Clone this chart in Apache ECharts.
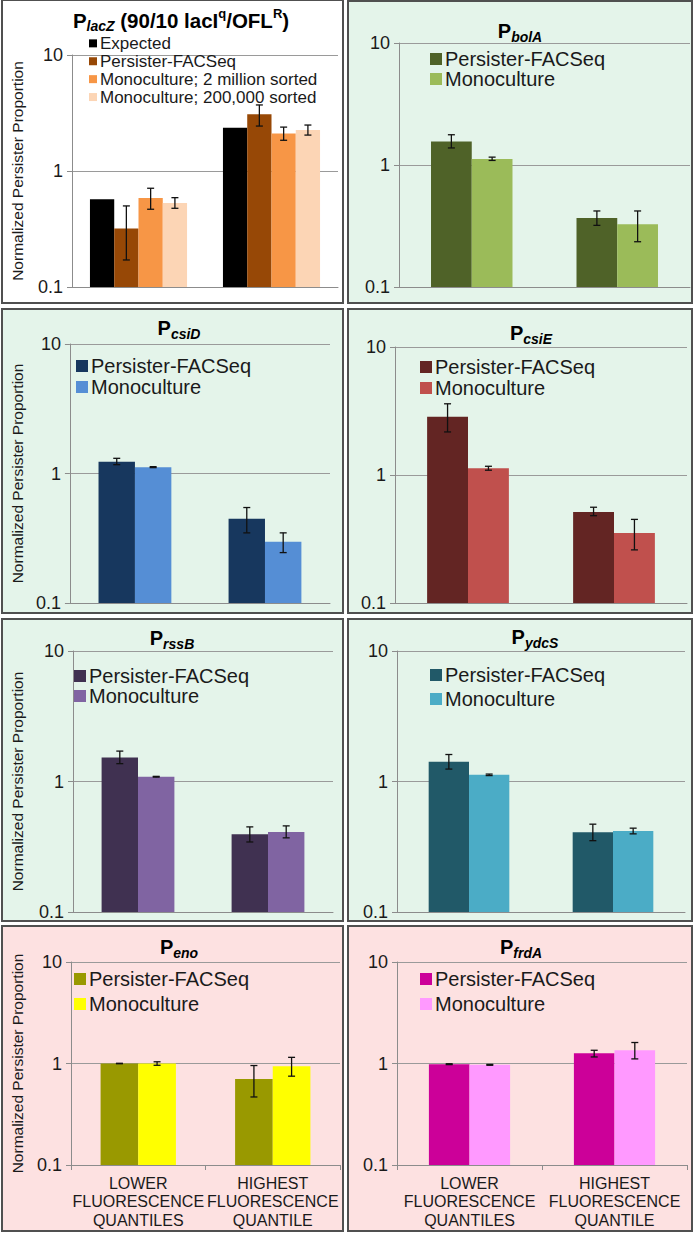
<!DOCTYPE html>
<html><head><meta charset="utf-8">
<script src="https://cdn.jsdelivr.net/npm/echarts@6/dist/echarts.min.js"></script>
<style>
html,body{margin:0;padding:0;background:#fff}
body{width:697px;height:1233px;position:relative;overflow:hidden}
.c{position:absolute}
.b{position:absolute;box-sizing:border-box;border:2px solid #505050;pointer-events:none;z-index:5}
</style></head><body>
<script>
// ---------- DATA ----------
const categories = ['LOWER\nFLUORESCENCE\nQUANTILES', 'HIGHEST\nFLUORESCENCE\nQUANTILE'];
const yTickLabels = ['0.1', '1', '10'];
const yAxisName = 'Normalized Persister Proportion';
const lacZNames = ['Expected', 'Persister-FACSeq', 'Monoculture; 2 million sorted', 'Monoculture; 200,000 sorted'];
const pairNames = ['Persister-FACSeq', 'Monoculture'];

// P lacZ
const lacZExpected = [0.57, 2.36];
const lacZFacseq = [0.32, 3.08];
const lacZFacseqLow = [0.171, 2.44];
const lacZFacseqHigh = [0.50, 3.71];
const lacZMono2M = [0.585, 2.11];
const lacZMono2MLow = [0.468, 1.84];
const lacZMono2MHigh = [0.71, 2.39];
const lacZMono200k = [0.53, 2.26];
const lacZMono200kLow = [0.477, 2.04];
const lacZMono200kHigh = [0.589, 2.49];
// P bolA
const bolAFacseq = [1.56, 0.368];
const bolAFacseqLow = [1.38, 0.32];
const bolAFacseqHigh = [1.77, 0.42];
const bolAMono = [1.12, 0.327];
const bolAMonoLow = [1.09, 0.235];
const bolAMonoHigh = [1.16, 0.42];
// P csiD
const csiDFacseq = [1.23, 0.447];
const csiDFacseqLow = [1.17, 0.348];
const csiDFacseqHigh = [1.31, 0.546];
const csiDMono = [1.12, 0.297];
const csiDMonoLow = [1.11, 0.245];
const csiDMonoHigh = [1.13, 0.348];
// P csiE
const csiEFacseq = [2.85, 0.514];
const csiEFacseqLow = [2.17, 0.481];
const csiEFacseqHigh = [3.6, 0.56];
const csiEMono = [1.13, 0.352];
const csiEMonoLow = [1.09, 0.26];
const csiEMonoHigh = [1.17, 0.45];
// P rssB
const rssBFacseq = [1.53, 0.394];
const rssBFacseqLow = [1.37, 0.344];
const rssBFacseqHigh = [1.71, 0.449];
const rssBMono = [1.087, 0.411];
const rssBMonoLow = [1.08, 0.37];
const rssBMonoHigh = [1.095, 0.457];
// P ydcS
const ydcSFacseq = [1.42, 0.409];
const ydcSFacseqLow = [1.245, 0.352];
const ydcSFacseqHigh = [1.61, 0.471];
const ydcSMono = [1.125, 0.418];
const ydcSMonoLow = [1.11, 0.397];
const ydcSMonoHigh = [1.14, 0.439];
// P eno
const enoFacseq = [1.0, 0.705];
const enoFacseqLow = [0.995, 0.468];
const enoFacseqHigh = [1.005, 0.955];
const enoMono = [1.0, 0.94];
const enoMonoLow = [0.96, 0.75];
const enoMonoHigh = [1.04, 1.15];
// P frdA
const frdAFacseq = [0.985, 1.26];
const frdAFacseqLow = [0.975, 1.16];
const frdAFacseqHigh = [0.995, 1.35];
const frdAMono = [0.97, 1.35];
const frdAMonoLow = [0.96, 1.11];
const frdAMonoHigh = [0.98, 1.61];

// ---------- LAYOUT / STYLE ----------
const GREEN = '#e4f4ea', PINK = '#fde1e1';
function pair(c1, c2, a, al, ah, b, bl, bh) {
  return [
    {name: pairNames[0], color: c1, v: a, lo: al, hi: ah},
    {name: pairNames[1], color: c2, v: b, lo: bl, hi: bh}
  ];
}
function sub(g) { return '{p|P}{s|' + g + '}'; }
const panels = [
  {title: '{p|P}{s|lacZ}{p| (90/10 lacI}{u|q}{p|/OFL}{u|R}{p|)}', frame: [1, -1, 344, 304], grid: [58, 55, 338, 287],
   t: [181, 7], lg: [89, 34.4, 17.9, 17, 8], gap: '27%', nameGap: 47, xl: false, bg: '#ffffff', pf: 20.5,
   series: [
     {name: lacZNames[0], color: '#000000', v: lacZExpected},
     {name: lacZNames[1], color: '#974806', v: lacZFacseq, lo: lacZFacseqLow, hi: lacZFacseqHigh},
     {name: lacZNames[2], color: '#f79646', v: lacZMono2M, lo: lacZMono2MLow, hi: lacZMono2MHigh},
     {name: lacZNames[3], color: '#fcd5b5', v: lacZMono200k, lo: lacZMono200kLow, hi: lacZMono200kHigh}
   ]},
  {title: sub('bolA'), frame: [347, 0, 693, 304], grid: [399, 43, 690, 287], t: [520, 17.5],
   lg: [430, 49, 20, 20, 12], gap: '44%', nameGap: null, xl: false, bg: GREEN,
   series: pair('#4f6228', '#9bbb59', bolAFacseq, bolAFacseqLow, bolAFacseqHigh, bolAMono, bolAMonoLow, bolAMonoHigh)},
  {title: sub('csiD'), frame: [1, 308, 344, 614], grid: [50, 344, 330, 603], t: [179, 315],
   lg: [76, 355.5, 21, 20, 12], gap: '44%', nameGap: 38.5, xl: false, bg: GREEN,
   series: pair('#17375e', '#558ed5', csiDFacseq, csiDFacseqLow, csiDFacseqHigh, csiDMono, csiDMonoLow, csiDMonoHigh)},
  {title: sub('csiE'), frame: [347, 308, 693, 614], grid: [395, 347, 687, 603], t: [531, 319.5],
   lg: [420, 356.5, 21, 20, 12], gap: '44%', nameGap: null, xl: false, bg: GREEN,
   series: pair('#632523', '#c0504d', csiEFacseq, csiEFacseqLow, csiEFacseqHigh, csiEMono, csiEMonoLow, csiEMonoHigh)},
  {title: sub('rssB'), frame: [1, 618, 344, 922], grid: [60, 651, 333, 912], t: [172, 624.5],
   lg: [74, 666, 20, 20, 12], gap: '44%', nameGap: 48, xl: false, bg: GREEN,
   series: pair('#403151', '#8064a2', rssBFacseq, rssBFacseqLow, rssBFacseqHigh, rssBMono, rssBMonoLow, rssBMonoHigh)},
  {title: sub('ydcS'), frame: [347, 618, 693, 922], grid: [397, 651, 685, 912], t: [535, 624],
   lg: [430, 663, 24, 20, 12], gap: '44%', nameGap: null, xl: false, bg: GREEN,
   series: pair('#215968', '#4bacc6', ydcSFacseq, ydcSFacseqLow, ydcSFacseqHigh, ydcSMono, ydcSMonoLow, ydcSMonoHigh)},
  {title: sub('eno'), frame: [1, 925, 344, 1232], grid: [58, 962, 340, 1165], t: [179, 934],
   lg: [74, 966.5, 25, 20, 12], gap: '44%', nameGap: 46, xl: true, bg: PINK,
   series: pair('#999900', '#ffff00', enoFacseq, enoFacseqLow, enoFacseqHigh, enoMono, enoMonoLow, enoMonoHigh)},
  {title: sub('frdA'), frame: [347, 925, 693, 1232], grid: [397, 962, 687, 1165], t: [521, 934],
   lg: [420, 966.5, 25, 20, 12], gap: '44%', nameGap: null, xl: true, bg: PINK,
   series: pair('#cc0099', '#ff99ff', frdAFacseq, frdAFacseqLow, frdAFacseqHigh, frdAMono, frdAMonoLow, frdAMonoHigh)}
];

const FONT = '"Liberation Sans", Arial, Helvetica, sans-serif';

panels.forEach(function (P, k) {
  const [x0, y0, x1, y1] = P.frame;
  const w = x1 - x0, h = y1 - y0;
  const div = document.createElement('div');
  div.className = 'c';
  div.style.cssText = 'left:' + x0 + 'px;top:' + y0 + 'px;width:' + w + 'px;height:' + h + 'px;';
  document.body.appendChild(div);
  const bd = document.createElement('div');
  bd.className = 'b';
  bd.style.cssText = 'left:' + x0 + 'px;top:' + y0 + 'px;width:' + w + 'px;height:' + h + 'px;';
  document.body.appendChild(bd);

  const [gx0, gy0, gx1, gy1] = P.grid;
  const n = P.series.length;
  const gapFrac = parseFloat(P.gap) / 100;
  const pf = P.pf || 20;

  const series = [];
  P.series.forEach(function (s, i) {
    series.push({
      type: 'bar', name: s.name, data: s.v, barGap: '0%', barCategoryGap: P.gap,
      itemStyle: {color: s.color}, emphasis: {disabled: true}, animation: false
    });
  });
  P.series.forEach(function (s, i) {
    if (!s.lo) return;
    series.push({
      type: 'custom', name: s.name + ' error', z: 10, silent: true, animation: false,
      data: categories.map(function (c, j) { return [j, s.lo[j], s.hi[j]]; }),
      renderItem: function (params, api) {
        const cat = api.value(0);
        const lo = api.coord([cat, api.value(1)]);
        const hi = api.coord([cat, api.value(2)]);
        const band = api.size([1, 0], [cat, 1])[0];
        const total = band * (1 - gapFrac);
        const bw = total / n;
        const x = lo[0] - total / 2 + bw * (i + 0.5);
        const cap = 3.5;
        const st = {stroke: '#111', lineWidth: 1.3};
        return {type: 'group', children: [
          {type: 'line', shape: {x1: x, y1: hi[1], x2: x, y2: lo[1]}, style: st},
          {type: 'line', shape: {x1: x - cap, y1: hi[1], x2: x + cap, y2: hi[1]}, style: st},
          {type: 'line', shape: {x1: x - cap, y1: lo[1], x2: x + cap, y2: lo[1]}, style: st}
        ]};
      }
    });
  });

  const [lx, ly, lh, lfs, isz] = P.lg;
  const option = {
    backgroundColor: P.bg,
    animation: false,
    textStyle: {fontFamily: FONT},
    title: {
      text: P.title, left: P.t[0] - x0, top: P.t[1] - y0, textAlign: 'center', padding: 0,
      textStyle: {
        fontFamily: FONT,
        rich: {
          p: {fontSize: pf, fontWeight: 'bold', color: '#000', lineHeight: 26, fontFamily: FONT},
          s: {fontSize: 14, fontWeight: 'bold', fontStyle: 'italic', color: '#000', lineHeight: 14, verticalAlign: 'bottom', fontFamily: FONT},
          u: {fontSize: 13, fontWeight: 'bold', color: '#000', lineHeight: 14, verticalAlign: 'top', fontFamily: FONT}
        }
      }
    },
    legend: {
      data: P.series.map(function (s) { return s.name; }),
      orient: 'vertical', left: lx - x0, top: ly - y0, padding: 0, itemGap: 0,
      icon: 'rect', itemWidth: isz, itemHeight: isz, selectedMode: false,
      textStyle: {fontSize: lfs, lineHeight: lh, color: '#1a1a1a', fontFamily: FONT, padding: [0, 0, 0, -2]}
    },
    grid: {left: gx0 - x0, top: gy0 - y0, width: gx1 - gx0, height: gy1 - gy0, containLabel: false},
    xAxis: {
      type: 'category', data: categories,
      axisLine: {onZero: false, lineStyle: {color: '#8c8c8c', width: 1}},
      axisTick: {show: P.xl, length: 5, lineStyle: {color: '#8c8c8c'}},
      axisLabel: {show: P.xl, fontSize: 16, lineHeight: 18.5, color: '#1a1a1a', margin: 9, interval: 0, fontFamily: FONT},
      splitLine: {show: false}
    },
    yAxis: {
      type: 'log', logBase: 10, min: 0.1, max: 10, startValue: 0.1,
      name: P.nameGap ? yAxisName : '', nameLocation: 'middle', nameGap: P.nameGap || 0,
      nameTextStyle: {fontSize: 15.5, color: '#1a1a1a', fontFamily: FONT},
      axisLine: {show: true, lineStyle: {color: '#8c8c8c', width: 1}},
      axisTick: {show: true, length: 5, lineStyle: {color: '#8c8c8c'}},
      axisLabel: {fontSize: 18, color: '#1a1a1a', margin: 9, fontFamily: FONT,
        formatter: function (v) { return yTickLabels[Math.round(Math.log10(v)) + 1]; }},
      splitLine: {show: true, lineStyle: {color: '#9a9a9a', width: 1}},
      minorTick: {show: false}, minorSplitLine: {show: false}
    },
    series: series
  };
  const chart = echarts.init(div, null, {renderer: 'svg', width: w, height: h});
  chart.setOption(option);
});
</script>
</body></html>
